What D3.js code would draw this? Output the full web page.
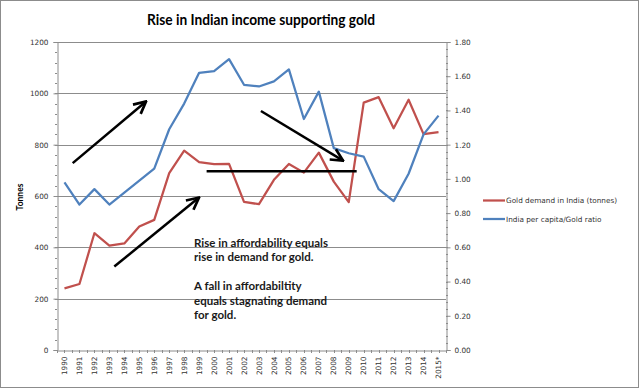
<!DOCTYPE html>
<html>
<head>
<meta charset="utf-8">
<script src="https://cdn.jsdelivr.net/npm/d3@7"></script>
<style>
body { margin: 0; background: #fff; }
svg { display: block; }
</style>
</head>
<body>
<svg></svg>
<script>
var years = ["1990","1991","1992","1993","1994","1995","1996","1997","1998","1999","2000","2001","2002",
             "2003","2004","2005","2006","2007","2008","2009","2010","2011","2012","2013","2014","2015*"];
var goldDemand = [240, 257, 455, 407, 415, 481, 507, 689, 777, 732, 724, 725, 577,
                  568, 663, 725, 691, 769, 656, 576, 964, 985, 864, 975, 841, 849];
var affordRatio = [0.98, 0.85, 0.94, 0.85, 0.92, 0.99, 1.06, 1.29, 1.44, 1.62, 1.63, 1.70, 1.55,
                   1.54, 1.57, 1.64, 1.35, 1.51, 1.18, 1.15, 1.13, 0.94, 0.87, 1.03, 1.26, 1.37];
var leftTicks = [0, 200, 400, 600, 800, 1000, 1200];
var rightTicks = [0, 0.2, 0.4, 0.6, 0.8, 1.0, 1.2, 1.4, 1.6, 1.8];
var seriesNames = ["Gold demand in India (tonnes)", "India per capita/Gold ratio"];
var seriesColors = ["#c0504d", "#4f81bd"];
var noteLines = ["Rise in affordability equals", "rise in demand for gold.", "",
                 "A fall in affordabiltity", "equals stagnating demand", "for gold."];
// annotation strokes in data units: year index and tonnes
var arrows = [
  {x0: 0.55, y0: 728, x1: 5.45, y1: 968, head: true},
  {x0: 3.33, y0: 325, x1: 8.99, y1: 594, head: true},
  {x0: 13.13, y0: 931, x1: 18.62, y1: 738, head: true},
  {x0: 9.5, y0: 696, x1: 19.53, y1: 696, head: false}
];

var width = 640, height = 389;
var plotL = 57, plotR = 446, plotT = 42, plotB = 350;

var svg = d3.select("svg").attr("width", width).attr("height", height);

svg.append("rect")
  .attr("x", 0.5).attr("y", 0.5)
  .attr("width", width - 2).attr("height", height - 2)
  .attr("fill", "#fff").attr("stroke", "#8c8c8c");

var x = d3.scaleBand().domain(years).range([plotL, plotR]);
var bw = x.bandwidth();
var xi = d3.scaleLinear().domain([0, years.length - 1])
  .range([x(years[0]) + bw / 2, x(years[years.length - 1]) + bw / 2]);
var yL = d3.scaleLinear().domain([0, 1200]).range([plotB, plotT]);
var yR = d3.scaleLinear().domain([0, 1.8]).range([plotB, plotT]);

// gridlines
svg.append("g").selectAll("line")
  .data(leftTicks.filter(function(d) { return d > 0; }))
  .enter().append("line")
  .attr("x1", plotL).attr("x2", plotR)
  .attr("y1", function(d) { return Math.round(yL(d)) + 0.5; })
  .attr("y2", function(d) { return Math.round(yL(d)) + 0.5; })
  .attr("stroke", "#8c8c8c").attr("stroke-width", 1);

var tickFont = "'DejaVu Sans', Verdana, sans-serif";

// minor ticks
svg.append("g").selectAll("line")
  .data(d3.range(0, 1201, 40))
  .enter().append("line")
  .attr("x1", plotL - 2).attr("x2", plotL)
  .attr("y1", function(d) { return Math.round(yL(d)) + 0.5; })
  .attr("y2", function(d) { return Math.round(yL(d)) + 0.5; })
  .attr("stroke", "#8c8c8c");
svg.append("g").selectAll("line")
  .data(d3.range(0, 46).map(function(i) { return i * 0.04; }))
  .enter().append("line")
  .attr("x1", plotR).attr("x2", plotR + 2)
  .attr("y1", function(d) { return Math.round(yR(d)) + 0.5; })
  .attr("y2", function(d) { return Math.round(yR(d)) + 0.5; })
  .attr("stroke", "#8c8c8c");

var axL = svg.append("g")
  .attr("transform", "translate(" + (plotL + 0.5) + ",0)")
  .call(d3.axisLeft(yL).tickValues(leftTicks).tickSize(4).tickPadding(5)
    .tickFormat(d3.format("d")));
var axR = svg.append("g")
  .attr("transform", "translate(" + (plotR + 0.5) + ",0)")
  .call(d3.axisRight(yR).tickValues(rightTicks).tickSize(4).tickPadding(4)
    .tickFormat(d3.format(".2f")));

var xTicks = d3.range(0, years.length * 2 + 1).map(function(i) { return plotL + i * bw / 2; });
svg.append("g").selectAll("line")
  .data(xTicks)
  .enter().append("line")
  .attr("x1", function(d) { return Math.round(d) + 0.5; })
  .attr("x2", function(d) { return Math.round(d) + 0.5; })
  .attr("y1", plotB).attr("y2", plotB + 3)
  .attr("stroke", "#8c8c8c");
var axB = svg.append("g")
  .attr("transform", "translate(0," + (plotB + 0.5) + ")")
  .call(d3.axisBottom(x).tickSize(0).tickPadding(0));
axB.selectAll("text")
  .attr("transform", "rotate(-90)")
  .attr("text-anchor", "end")
  .attr("dy", "0.35em")
  .attr("x", -6).attr("y", 0);

[axL, axR, axB].forEach(function(g) {
  g.select(".domain").attr("stroke", "#8c8c8c");
  g.selectAll(".tick line").attr("stroke", "#8c8c8c");
  g.selectAll("text").attr("font-family", tickFont).attr("font-size", "7.3px").attr("fill", "#333");
});

// series lines
var lineL = d3.line()
  .x(function(d, i) { return x(years[i]) + bw / 2; })
  .y(function(d) { return yL(d); });
var lineR = d3.line()
  .x(function(d, i) { return x(years[i]) + bw / 2; })
  .y(function(d) { return yR(d); });

svg.append("path").datum(goldDemand)
  .attr("d", lineL).attr("fill", "none")
  .attr("stroke", seriesColors[0]).attr("stroke-width", 2.25)
  .attr("stroke-linejoin", "round");
svg.append("path").datum(affordRatio)
  .attr("d", lineR).attr("fill", "none")
  .attr("stroke", seriesColors[1]).attr("stroke-width", 2.25)
  .attr("stroke-linejoin", "round");

// arrows
svg.append("defs").append("marker")
  .attr("id", "head")
  .attr("viewBox", "0 0 10 10")
  .attr("refX", 9).attr("refY", 5)
  .attr("markerWidth", 6).attr("markerHeight", 6)
  .attr("orient", "auto")
  .append("path")
  .attr("d", "M1,1 L9,5 L1,9")
  .attr("fill", "none").attr("stroke", "#000").attr("stroke-width", 1.8);

svg.append("g").selectAll("line")
  .data(arrows)
  .enter().append("line")
  .attr("x1", function(d) { return xi(d.x0); })
  .attr("y1", function(d) { return yL(d.y0); })
  .attr("x2", function(d) { return xi(d.x1); })
  .attr("y2", function(d) { return yL(d.y1); })
  .attr("stroke", "#000").attr("stroke-width", 2.5)
  .attr("marker-end", function(d) { return d.head ? "url(#head)" : null; });

// note text
svg.append("g").selectAll("text")
  .data(noteLines)
  .enter().append("text")
  .attr("x", 194)
  .attr("y", function(d, i) { return 246.5 + i * 14.5; })
  .attr("font-family", "Lato, sans-serif")
  .attr("font-weight", "bold")
  .attr("font-size", "11.5px")
  .attr("fill", "#1a1a1a")
  .text(function(d) { return d; });

// title
svg.append("text")
  .attr("x", 261).attr("y", 24.5)
  .attr("text-anchor", "middle")
  .attr("font-family", "Lato, sans-serif")
  .attr("font-weight", "bold")
  .attr("font-size", "15px")
  .attr("textLength", 228)
  .attr("lengthAdjust", "spacingAndGlyphs")
  .attr("fill", "#000")
  .text("Rise in Indian income supporting gold");

// y axis title
svg.append("text")
  .attr("transform", "translate(23,197) rotate(-90)")
  .attr("text-anchor", "middle")
  .attr("font-family", "Lato, sans-serif")
  .attr("font-weight", "bold")
  .attr("font-size", "8.5px")
  .attr("fill", "#000")
  .text("Tonnes");

// legend
var legend = svg.append("g").selectAll("g")
  .data(seriesNames)
  .enter().append("g")
  .attr("transform", function(d, i) { return "translate(483," + (200.5 + i * 18.5) + ")"; });
legend.append("line")
  .attr("x1", 0).attr("x2", 22).attr("y1", 0).attr("y2", 0)
  .attr("stroke", function(d, i) { return seriesColors[i]; })
  .attr("stroke-width", 2.25);
legend.append("text")
  .attr("x", 23).attr("y", 0).attr("dy", "0.35em")
  .attr("font-family", tickFont).attr("font-size", "7.3px").attr("fill", "#333")
  .text(function(d) { return d; });
</script>
</body>
</html>
